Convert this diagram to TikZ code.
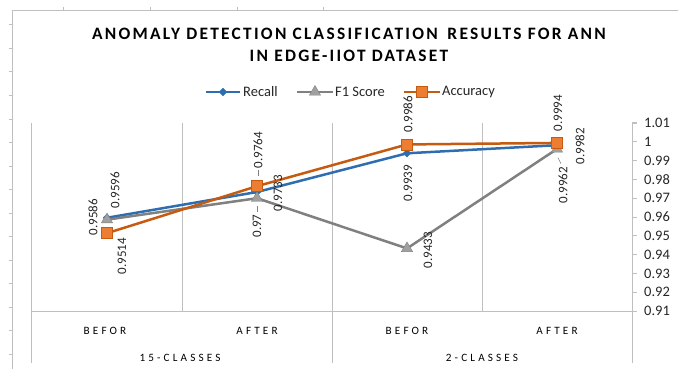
\documentclass[tikz,border=0pt]{standalone}
\usepackage{fontspec}
\setmainfont{Carlito}
\newfontfamily\titlefont[LetterSpace=13]{Carlito}
\newfontfamily\catfont[LetterSpace=28]{Carlito}
\usetikzlibrary{shapes.geometric}

\definecolor{recallBlue}{RGB}{46,110,176}
\definecolor{foneGray}{RGB}{128,128,128}
\definecolor{foneFill}{RGB}{160,160,160}
\definecolor{accOrange}{RGB}{197,90,17}
\definecolor{accFill}{RGB}{237,125,49}
\definecolor{gridGray}{RGB}{191,191,191}
\definecolor{textDark}{RGB}{38,38,38}

\tikzset{
    gridLine/.style={draw=gridGray, line width=1pt},
    seriesLine/.style={line width=2.5pt, line join=round},
    recallMark/.style={diamond, fill=recallBlue, draw=recallBlue, inner sep=0pt, minimum size=8pt},
    foneMark/.style={regular polygon, regular polygon sides=3, fill=foneFill, draw=foneGray, inner sep=0pt, minimum size=13pt},
    accMark/.style={rectangle, fill=accFill, draw=accOrange, line width=0.8pt, inner sep=0pt, minimum size=11pt},
    dataLabel/.style={rotate=90, font=\fontsize{13}{13}\selectfont, text=textDark, inner sep=0pt},
    tickLabel/.style={anchor=west, font=\fontsize{14.5}{14.5}\selectfont, text=textDark, inner sep=0pt},
    legendLabel/.style={anchor=west, font=\fontsize{14.5}{14.5}\selectfont, text=textDark, inner sep=0pt},
    catLabel/.style={font=\catfont\fontsize{11.2}{11.2}\selectfont, text=black, inner sep=0pt},
    leader/.style={draw=foneGray, line width=0.6pt}
}

\begin{document}
\begin{tikzpicture}[x=1pt, y=-1pt]
    \useasboundingbox (0,0) rectangle (678,369);

    % sheet frame with its small ticks
    \draw[gridLine] (12,369) -- (12,11) -- (678,11);
    \foreach \tx in {63,150,237,323}
        \draw[gridLine] (\tx,7) -- (\tx,11);
    \foreach \k in {0,...,14}
        \draw[gridLine] (9,{25+23.5*\k}) -- (12,{25+23.5*\k});

    % title
    \node (title) at (349,45) [align=center, font=\titlefont\bfseries\fontsize{17.4}{22.5}\selectfont, text=black]
        {ANOMALY DETECTION CLASSIFICATION\hspace{0.2em} RESULTS FOR ANN\\IN EDGE-IIOT DATASET};

    % legend
    \draw[seriesLine, recallBlue] (206,92) -- (240,92);
    \node (legRecall) at (223,92) [recallMark] {};
    \node (legRecallText) at (243,92) [legendLabel] {Recall};
    \draw[seriesLine, foneGray] (297,92) -- (333,92);
    \node (legFone) at (315,92) [foneMark] {};
    \node (legFoneText) at (335,92) [legendLabel] {F1 Score};
    \draw[seriesLine, accOrange] (404,92) -- (440,92);
    \node (legAcc) at (422,92) [accMark] {};
    \node (legAccText) at (442,92) [legendLabel] {Accuracy};

    % category lines and axes
    \foreach \gx in {31,182,332,482,632}
        \draw[gridLine] (\gx,123) -- (\gx,311);
    \foreach \gx in {31,332,632}
        \draw[gridLine] (\gx,311) -- (\gx,363);
    \draw[gridLine] (31,311) -- (637,311);
    \foreach \k in {0,...,10}
        \draw[gridLine] (632,{311-18.8*\k}) -- (637,{311-18.8*\k});
    \foreach \lab [count=\k from 0] in {0.91,0.92,0.93,0.94,0.95,0.96,0.97,0.98,0.99,1,1.01}
        \node (tick\k) at (644,{311-18.8*\k}) [tickLabel] {\lab};

    \node (cat1) at (105,331) [catLabel] {BEFOR};
    \node (cat2) at (257,331) [catLabel] {AFTER};
    \node (cat3) at (407,331) [catLabel] {BEFOR};
    \node (cat4) at (557,331) [catLabel] {AFTER};
    \node (grp1) at (180,358) [catLabel] {15-CLASSES};
    \node (grp2) at (482,358) [catLabel] {2-CLASSES};

    % data points
    \foreach \v [count=\i] in {0.9596,0.9733,0.9939,0.9982}
        \coordinate (rec\i) at ({107+150*(\i-1)},{311-(\v-0.91)*1880});
    \foreach \v [count=\i] in {0.9586,0.97,0.9433,0.9962}
        \coordinate (fone\i) at ({107+150*(\i-1)},{311-(\v-0.91)*1880});
    \foreach \v [count=\i] in {0.9514,0.9764,0.9986,0.9994}
        \coordinate (acc\i) at ({107+150*(\i-1)},{311-(\v-0.91)*1880});

    % series
    \draw[seriesLine, recallBlue] (rec1) -- (rec2) -- (rec3) -- (rec4);
    \foreach \i in {1,...,4}
        \node at (rec\i) [recallMark] {};
    \draw[seriesLine, foneGray] (fone1) -- (fone2) -- (fone3) -- (fone4);
    \foreach \i in {1,...,4}
        \node at (fone\i) [foneMark] {};
    \draw[seriesLine, accOrange] (acc1) -- (acc2) -- (acc3) -- (acc4);
    \foreach \i in {1,...,4}
        \node at (acc\i) [accMark] {};

    % value labels
    \node (labRec1) at (115,190) [dataLabel] {0.9596};
    \node (labRec2) at (278,193) [dataLabel] {0.9733};
    \node (labRec3) at (408,183) [dataLabel] {0.9939};
    \node (labRec4) at (580,146) [dataLabel] {0.9982};
    \node (labFone1) at (93,217) [dataLabel] {0.9586};
    \node (labFone2) at (257,226) [dataLabel] {0.97};
    \node (labFone3) at (428,250) [dataLabel] {0.9433};
    \node (labFone4) at (563,185) [dataLabel] {0.9962};
    \node (labAcc1) at (122,256) [dataLabel] {0.9514};
    \node (labAcc2) at (258,150) [dataLabel] {0.9764};
    \node (labAcc3) at (408,114) [dataLabel] {0.9986};
    \node (labAcc4) at (558,113) [dataLabel] {0.9994};

    % leader lines
    \draw[leader] (labAcc2.west) ++(0,2) -- ++(0,6);
    \draw[leader] (labFone2.east) ++(0,-2) -- ++(0,-6);
    \draw[leader] (labFone4.east) ++(-2,-3) -- ++(-3,-6);
\end{tikzpicture}
\end{document}
